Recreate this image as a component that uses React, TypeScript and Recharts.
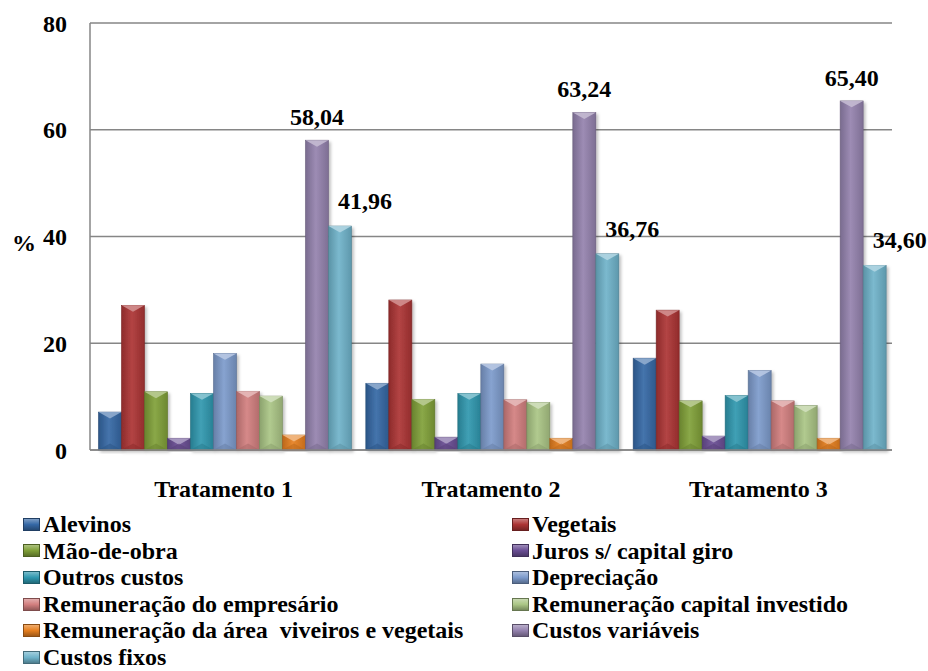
import React from 'react';
import { BarChart, Bar, XAxis, YAxis, CartesianGrid, Legend, LabelList, Label } from 'recharts';

const categories = ['Tratamento 1', 'Tratamento 2', 'Tratamento 3'];

const seriesNames = [
  'Alevinos',
  'Vegetais',
  'Mão-de-obra',
  'Juros s/ capital giro',
  'Outros custos',
  'Depreciação',
  'Remuneração do empresário',
  'Remuneração capital investido',
  'Remuneração da área  viveiros e vegetais',
  'Custos variáveis',
  'Custos fixos',
];

// one array per series, values for Tratamento 1, 2, 3
const alevinos = [7.1, 12.5, 17.2];
const vegetais = [27.1, 28.1, 26.2];
const maoDeObra = [10.9, 9.5, 9.2];
const juros = [2.2, 2.4, 2.6];
const outrosCustos = [10.6, 10.6, 10.2];
const depreciacao = [18.1, 16.1, 14.9];
const remEmpresario = [11.0, 9.4, 9.2];
const remCapital = [10.1, 8.9, 8.3];
const remArea = [2.8, 2.2, 2.2];
const custosVariaveis = [58.04, 63.24, 65.4];
const custosFixos = [41.96, 36.76, 34.6];

const seriesValues = [
  alevinos, vegetais, maoDeObra, juros, outrosCustos, depreciacao,
  remEmpresario, remCapital, remArea, custosVariaveis, custosFixos,
];

const yTicks = [0, 20, 40, 60, 80];

const COLORS = [
  '#3568A5', '#AC3434', '#80A038', '#6A4E94', '#2F98AF', '#7D9BCC',
  '#D27F7F', '#AAC585', '#E67F1F', '#9482AE', '#6FB3CA',
];

const FONT = '"Liberation Serif", "Times New Roman", serif';

const data = categories.map((name, i) => {
  const row: Record<string, string | number> = { name };
  seriesNames.forEach((s, k) => { row[s] = seriesValues[k][i]; });
  return row;
});

const shade = (hex: string, f: number) => {
  const n = parseInt(hex.slice(1), 16);
  const c = [(n >> 16) & 255, (n >> 8) & 255, n & 255].map((v) =>
    f < 1 ? Math.round(v * f) : Math.round(v + (255 - v) * (f - 1))
  );
  return `rgb(${c[0]},${c[1]},${c[2]})`;
};

const BevelBar = (props: any) => {
  const { x, y, width, height, seriesIndex } = props;
  if (!height || height <= 0) return null;
  const color = COLORS[seriesIndex];
  const tri = Math.min(width * 0.28, height);
  return (
    <g filter="url(#barShadow)">
      <rect x={x} y={y} width={width} height={height} fill={`url(#grad${seriesIndex})`}
        stroke={shade(color, 0.7)} strokeWidth={0.6} />
      <polygon points={`${x},${y} ${x + width},${y} ${x + width / 2},${y + tri}`}
        fill={shade(color, 1.45)} opacity={0.9} />
      <polygon points={`${x},${y + height} ${x + width},${y + height} ${x + width / 2},${y + height - tri}`}
        fill={shade(color, 0.8)} opacity={0.5} />
    </g>
  );
};

const fmt = (v: number) => v.toFixed(2).replace('.', ',');

const topLabel = (dx: number, lift: number) => (props: any) => {
  const { x, y, width, value } = props;
  return (
    <text x={x + width / 2 + dx} y={y - lift} textAnchor="middle"
      fontFamily={FONT} fontWeight="bold" fontSize={24} fill="#000">
      {fmt(value)}
    </text>
  );
};

const LegendContent = () => (
  <div style={{
    display: 'grid', gridTemplateColumns: '489px 1fr', paddingLeft: 23,
    fontFamily: FONT, fontWeight: 'bold', fontSize: 24, color: '#000', lineHeight: '26.6px',
  }}>
    {seriesNames.map((s, k) => (
      <div key={s} style={{ display: 'flex', alignItems: 'center', whiteSpace: 'pre' }}>
        <span style={{
          display: 'inline-block', width: 17, height: 13, marginRight: 3,
          background: `linear-gradient(180deg, ${shade(COLORS[k], 1.35)} 0%, ${COLORS[k]} 50%, ${shade(COLORS[k], 0.7)} 100%)`,
          border: `1px solid ${shade(COLORS[k], 0.6)}`, boxSizing: 'border-box',
        }} />
        {s}
      </div>
    ))}
  </div>
);

const tickStyle = { fontFamily: FONT, fontWeight: 'bold', fontSize: 24, fill: '#000' };

const App = () => {
  return (
    <div style={{ position: 'absolute', left: 0, top: 0, width: 928, height: 671, background: '#fff', fontFamily: FONT }}>
      <BarChart width={928} height={671} data={data}
        margin={{ top: 23, right: 36, left: 0, bottom: 161 }}
        barCategoryGap={8.5} barGap={0}>
        <defs>
          {COLORS.map((c, k) => (
            <linearGradient key={k} id={`grad${k}`} x1="0" y1="0" x2="1" y2="0">
              <stop offset="0%" stopColor={shade(c, 0.82)} />
              <stop offset="45%" stopColor={shade(c, 1.08)} />
              <stop offset="100%" stopColor={shade(c, 0.85)} />
            </linearGradient>
          ))}
          <filter id="barShadow" x="-20%" y="-5%" width="150%" height="115%">
            <feDropShadow dx="2" dy="2" stdDeviation="1.5" floodColor="#000" floodOpacity="0.25" />
          </filter>
        </defs>
        <CartesianGrid vertical={false} stroke="#868686" strokeWidth={1.3} />
        <XAxis dataKey="name" height={60} tickLine={false} tickSize={0} tickMargin={30}
          axisLine={{ stroke: '#868686', strokeWidth: 1.5 }} tick={tickStyle} />
        <YAxis width={90} domain={[0, 80]} ticks={yTicks} tickLine={false} tickSize={0} tickMargin={23}
          axisLine={{ stroke: '#868686', strokeWidth: 1.5 }} tick={tickStyle}>
          <Label value="%" position="insideLeft" offset={12} dy={6}
            fontFamily={FONT} fontWeight="bold" fontSize={24} fill="#000" />
        </YAxis>
        <Legend layout="horizontal" verticalAlign="middle" align="center" content={<LegendContent />}
          wrapperStyle={{ top: 511, left: 0, width: 928 }} />
        {seriesNames.map((s, k) => (
          <Bar key={s} dataKey={s} fill={COLORS[k]} isAnimationActive={false}
            shape={(p: any) => <BevelBar {...p} seriesIndex={k} />}>
            {k === 9 && <LabelList dataKey={s} content={topLabel(0, 15)} />}
            {k === 10 && <LabelList dataKey={s} content={topLabel(25, 17)} />}
          </Bar>
        ))}
      </BarChart>
    </div>
  );
};

export default App;
